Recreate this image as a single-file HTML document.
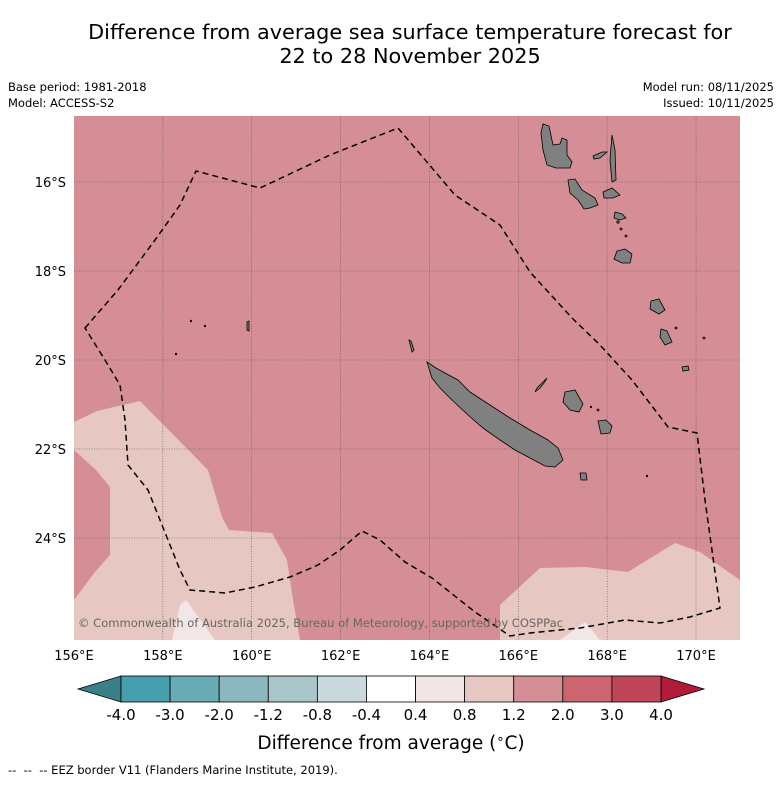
<!DOCTYPE html>
<html><head><meta charset="utf-8"><style>
body{margin:0;background:#fff;font-family:"Liberation Sans","DejaVu Sans",sans-serif}
svg text{font-family:"DejaVu Sans","Liberation Sans",sans-serif}
</style></head><body>
<svg id="s" width="781" height="781" viewBox="0 0 781 781">
<text x="410" y="39" font-size="20.8" text-anchor="middle">Difference from average sea surface temperature forecast for</text>
<text x="410" y="63" font-size="20.8" text-anchor="middle">22 to 28 November 2025</text>
<text x="8" y="91" font-size="11.5">Base period: 1981-2018</text>
<text x="8" y="107" font-size="11.5">Model: ACCESS-S2</text>
<text x="774" y="91" font-size="11.5" text-anchor="end">Model run: 08/11/2025</text>
<text x="774" y="107" font-size="11.5" text-anchor="end">Issued: 10/11/2025</text>
<defs><clipPath id="mc"><rect x="74" y="116" width="666" height="524"/></clipPath></defs>
<g clip-path="url(#mc)">
<rect x="74" y="116" width="666" height="524" fill="#d58e95"/>
<polygon fill="#e7c7c1" points="74,422 97,411 140,401 208,470 222,517 229,530 272,533 287,560 293,600 300,640 74,640 74,600 95,572 110,555 110,487 96,470 74,450"/>
<polygon fill="#f3e6e6" points="172,640 180,605 186,600 215,640"/>
<polygon fill="#e7c7c1" points="500,640 500,605 540,568 585,567 628,572 675,543 700,552 740,580 740,640"/>
<polygon fill="#f3e6e6" points="560,640 585,622 600,640"/>
<g id="grid"></g>
<g fill="#808080" stroke="#000" stroke-width="0.8">
<polygon points="427,362 436,368 445,373 458,380 470,392 490,405 510,418 530,430 548,440 558,448 563,460 555,467 545,466 530,458 515,450 500,440 483,428 468,415 452,400 440,388 432,378"/>
<polygon points="543,124 549,126 553,145 560,144 562,138 567,140 567,155 572,162 570,168 556,168 547,165 543,150 541,133"/>
<polygon points="568,180 575,179 582,190 595,198 598,205 590,208 584,209 578,200 570,193"/>
<polygon points="603,192 612,188 620,195 613,198 604,198"/>
<polygon points="612,135 615,150 616,180 612,182 610,160"/>
<polygon points="593,156 602,152 607,152 600,158 594,159"/>
<polygon points="615,212 622,214 626,218 620,220 614,218"/>
<polygon points="617,251 625,249 632,254 630,263 622,263 614,259"/>
<polygon points="565,392 575,390 579,397 583,404 579,412 570,410 563,402"/>
<polygon points="598,421 606,420 612,426 610,433 601,434"/>
<polygon points="537,388 544,381 547,378 544,383 540,388 535,392"/>
<polygon points="651,301 659,299 665,310 659,314 650,309"/>
<polygon points="661,329 667,331 672,342 665,345 660,337"/>
<polygon points="682,367 688,366 689,370 683,371"/>
<polygon points="580,473 586,473 587,480 581,480"/>
<polygon points="247,322 249,321 249,331 247,330"/>
<polygon points="409,340 411,341 414,350 412,352"/>
<circle cx="191" cy="321" r="0.8"/><circle cx="205" cy="326" r="0.8"/><circle cx="176" cy="354" r="0.8"/>
<circle cx="676" cy="328" r="1"/><circle cx="704" cy="338" r="1"/><circle cx="647" cy="476" r="0.8"/>
<circle cx="618" cy="222" r="1.2"/><circle cx="621" cy="229" r="1"/><circle cx="626" cy="236" r="1"/>
<circle cx="598" cy="410" r="1"/><circle cx="591" cy="407" r="0.8"/>
</g>
<path fill="none" stroke="#000" stroke-width="1.5" stroke-dasharray="6,4" d="M85,328 L118,290 L155,240 L180,205 L196,171 L260,188 L330,155 L398,128 L455,195 L500,225 L530,272 L572,318 L600,345 L632,380 L668,427 L697,433 L705,500 L720,608 L690,617 L660,623 L625,620 L580,628 L530,633 L510,636 L475,612 L432,578 L405,562 L380,540 L362,531 L340,550 L318,565 L290,577 L255,587 L225,593 L190,590 L180,570 L162,525 L148,490 L128,465 L125,420 L120,385 L105,360 Z"/>
<text x="78" y="627" font-size="11.5" fill="#666" textLength="485" lengthAdjust="spacingAndGlyphs">© Commonwealth of Australia 2025, Bureau of Meteorology, supported by COSPPac</text>
</g>
<g id="axes"></g>
<g id="cbar"></g>
<text x="391" y="749" font-size="18.5" text-anchor="middle">Difference from average (<tspan font-size="13" dy="-6">∘</tspan><tspan dy="6">C)</tspan></text>
<text x="8" y="774" font-size="11.5" xml:space="preserve">--  --  -- EEZ border V11 (Flanders Marine Institute, 2019).</text>
</svg>
<script>
const lonTicks=[156,158,160,162,164,166,168,170];
const latTicks=[16,18,20,22,24];
const cbarLevels=["-4.0","-3.0","-2.0","-1.2","-0.8","-0.4","0.4","0.8","1.2","2.0","3.0","4.0"];
const cbarColors=["#479fae","#69aab7","#8cb7bf","#a9c6ca","#c9d9dd","#ffffff","#f2e5e5","#e7c7c1","#d58e95","#cc6570","#bf4656"];
const NS="http://www.w3.org/2000/svg";
const xs=lon=>74+(lon-156)*44.43;
const ys=lat=>182+(lat-16)*44.5;
function mk(t,a,p){const e=document.createElementNS(NS,t);for(const k in a)e.setAttribute(k,a[k]);p.appendChild(e);return e;}
const grid=document.getElementById('grid'),axes=document.getElementById('axes');
lonTicks.forEach(l=>{if(l>156){const g=mk('line',{x1:xs(l),x2:xs(l),y1:116,y2:640,stroke:'#555','stroke-width':0.6,'stroke-dasharray':'1,1.5'},grid);

}
const t=mk('text',{x:xs(l),y:660,'font-size':13,'text-anchor':'middle'},axes);t.textContent=l+'°E';

});
latTicks.forEach(l=>{const g=mk('line',{x1:74,x2:740,y1:ys(l),y2:ys(l),stroke:'#555','stroke-width':0.6,'stroke-dasharray':'1,1.5'},grid);


const t=mk('text',{x:66,y:ys(l)+5,'font-size':13,'text-anchor':'end'},axes);t.textContent=l+'°S';

});
const cb=document.getElementById('cbar');const x0=121,x1=661,y0=676,h=26,w=(x1-x0)/cbarColors.length;
const lt=mk('polygon',{points:`78,${y0+h/2} ${x0},${y0} ${x0},${y0+h}`,fill:'#3b8089',stroke:'#000','stroke-width':0.8},cb);


const rt=mk('polygon',{points:`704,${y0+h/2} ${x1},${y0} ${x1},${y0+h}`,fill:'#b01c38',stroke:'#000','stroke-width':0.8},cb);


cbarColors.forEach((c,i)=>{const r=mk('rect',{x:x0+i*w,y:y0,width:w,height:h,fill:c,stroke:'#000','stroke-width':0.8},cb);

});
cbarLevels.forEach((v,i)=>{const t=mk('text',{x:x0+i*w,y:720,'font-size':15,'text-anchor':'middle'},cb);t.textContent=v;

});
</script>
</body></html>
